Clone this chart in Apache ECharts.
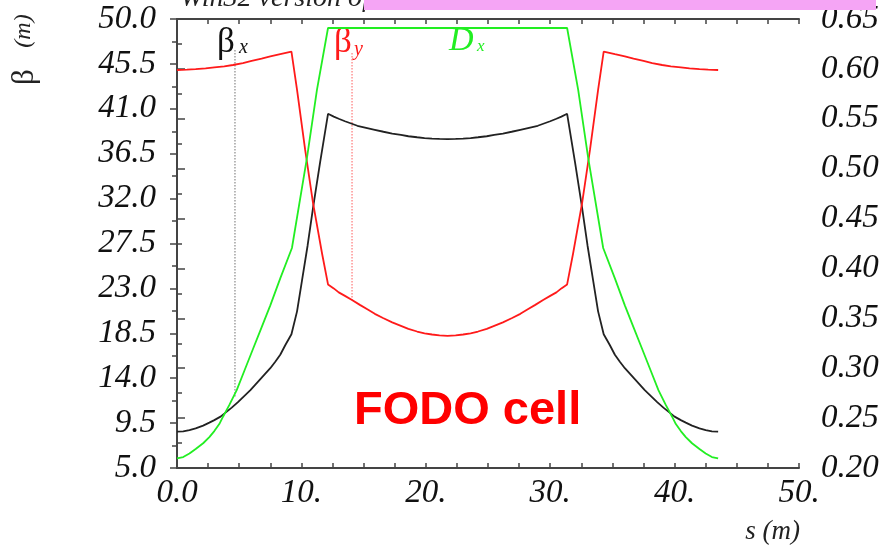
<!DOCTYPE html>
<html>
<head>
<meta charset="utf-8">
<script src="https://cdn.jsdelivr.net/npm/echarts@6/dist/echarts.min.js"></script>
<style>
html,body{margin:0;padding:0;background:#fff;}
#c{width:891px;height:547px;}
</style>
</head>
<body>
<div id="c"></div>
<script>
// ---- data ----
const sBetaX = [0, 0.5, 1.0, 1.5, 2.1, 2.6, 3.0, 3.5, 3.9, 4.4, 4.9, 5.4, 5.9, 6.3, 6.7, 7.1, 7.5, 7.9, 8.3, 8.7, 9.2, 9.65, 10.05, 10.5, 10.95, 11.5, 12.14,
  12.6, 13.0, 13.5, 14.5, 15.2, 15.9, 16.6, 17.3, 18.0, 18.6, 19.3, 19.9, 20.5, 21.1, 21.75, 22.4, 23.0, 23.6, 24.2, 24.9, 25.5, 26.2, 26.9, 27.6, 28.3, 29.0, 30.0, 30.5, 30.9, 31.36,
  32.0, 32.55, 33.0, 33.45, 33.85, 34.3, 34.8, 35.2, 35.6, 36.0, 36.4, 36.8, 37.2, 37.6, 38.1, 38.6, 39.1, 39.6, 40.0, 40.5, 40.9, 41.4, 42.0, 42.5, 43.0, 43.5];
const betaX  = [8.64, 8.68, 8.8, 8.97, 9.25, 9.55, 9.8, 10.15, 10.55, 11.05, 11.6, 12.2, 12.8, 13.35, 13.9, 14.45, 15.0, 15.65, 16.35, 17.3, 18.4, 20.7, 23.8, 27.3, 31.2, 35.6, 40.5,
  40.22, 40.0, 39.75, 39.3, 39.1, 38.9, 38.7, 38.52, 38.38, 38.25, 38.15, 38.07, 38.02, 37.98, 37.97, 37.98, 38.02, 38.07, 38.15, 38.25, 38.38, 38.52, 38.7, 38.9, 39.1, 39.3, 39.75, 40.0, 40.22, 40.5,
  35.6, 31.2, 27.3, 23.8, 20.7, 18.4, 17.3, 16.35, 15.65, 15.0, 14.45, 13.9, 13.35, 12.8, 12.2, 11.6, 11.05, 10.55, 10.15, 9.8, 9.55, 9.25, 8.97, 8.8, 8.68, 8.64];

const sBetaY = [0, 0.8, 1.5, 2.3, 3.0, 3.8, 4.5, 5.3, 6.0, 6.8, 7.5, 8.3, 9.2, 9.65, 10.3, 10.93, 11.66, 12.14,
  12.6, 13.0, 13.5, 14.07, 14.7, 15.3, 15.9, 16.56, 17.3, 18.0, 18.6, 19.3, 19.9, 20.5, 21.1, 21.75, 22.4, 23.0, 23.6, 24.2, 24.9, 25.5, 26.2, 26.94, 27.6, 28.2, 28.8, 29.43, 30.0, 30.5, 30.9, 31.36,
  31.84, 32.57, 33.2, 33.85, 34.3, 35.2, 36.0, 36.7, 37.5, 38.2, 39.0, 39.7, 40.5, 41.2, 42.0, 42.7, 43.5];
const betaY  = [44.89, 44.92, 44.98, 45.05, 45.15, 45.26, 45.39, 45.58, 45.8, 46.02, 46.25, 46.47, 46.72, 42.9, 36.9, 31.6, 26.5, 23.4,
  23.0, 22.6, 22.25, 21.84, 21.35, 20.9, 20.45, 20.03, 19.6, 19.25, 18.95, 18.68, 18.5, 18.38, 18.29, 18.25, 18.29, 18.38, 18.5, 18.68, 18.95, 19.25, 19.6, 20.03, 20.45, 20.9, 21.35, 21.84, 22.25, 22.6, 23.0, 23.4,
  26.5, 31.6, 36.9, 42.9, 46.72, 46.47, 46.25, 46.02, 45.8, 45.58, 45.39, 45.26, 45.15, 45.05, 44.98, 44.92, 44.89];

const sDx = [0, 0.5, 1.0, 1.5, 2.1, 2.6, 3.0, 3.4, 3.7, 4.2, 4.8, 5.4, 6.1, 6.8, 7.5, 8.3, 9.24, 10.45, 11.25, 12.14,
  31.36, 32.25, 33.05, 34.26, 35.2, 36.0, 36.7, 37.4, 38.1, 38.7, 39.3, 39.8, 40.1, 40.5, 40.9, 41.4, 42.0, 42.5, 43.0, 43.5];
const dX  = [0.2097, 0.211, 0.2145, 0.219, 0.2248, 0.231, 0.237, 0.244, 0.2514, 0.263, 0.278, 0.297, 0.319, 0.341, 0.363, 0.39, 0.4205, 0.511, 0.579, 0.641,
  0.641, 0.579, 0.511, 0.4205, 0.39, 0.363, 0.341, 0.319, 0.297, 0.278, 0.263, 0.2514, 0.244, 0.237, 0.231, 0.2248, 0.219, 0.2145, 0.211, 0.2097];

// dotted marker lines (s position, top and bottom beta values)
const markerGrayS = [4.66, 4.66];
const markerGrayY = [46.9, 12.1];
const markerRedS  = [14.07, 14.07];
const markerRedY  = [46.6, 21.8];

// tick labels
const xTickValues = [0, 10, 20, 30, 40, 50];
const xTickLabels = ['0.0', '10.', '20.', '30.', '40.', '50.'];

function pairs(xs, ys){ return xs.map((x,i)=>[x, ys[i]]); }

const serif = "'Liberation Serif','DejaVu Serif',serif";
const axisCol = '#444';
const labelStyle = {fontFamily: serif, fontStyle: 'italic', fontSize: 33, color: '#111'};

const chart = echarts.init(document.getElementById('c'), null, {renderer: 'canvas'});
chart.setOption({
  animation: false,
  backgroundColor: '#fff',
  grid: {left: 177, right: 92, top: 19, bottom: 79, containLabel: false},
  xAxis: [{
    type: 'value', min: 0, max: 50, interval: 10, position: 'bottom',
    axisLine: {show: true, lineStyle: {color: axisCol, width: 2}},
    axisTick: {show: true, inside: true, length: 5, lineStyle: {color: axisCol, width: 1.5}},
    minorTick: {show: true, splitNumber: 4, length: 5, lineStyle: {color: axisCol, width: 1.5}},
    splitLine: {show: false},
    axisLabel: Object.assign({margin: 9, formatter: v => { const i = xTickValues.indexOf(v); return i >= 0 ? xTickLabels[i] : ''; }}, labelStyle)
  }, {
    type: 'value', min: 0, max: 50, interval: 10, position: 'top',
    axisLine: {show: true, lineStyle: {color: axisCol, width: 2}},
    axisTick: {show: true, inside: true, length: 5, lineStyle: {color: axisCol, width: 1.5}},
    minorTick: {show: true, splitNumber: 4, length: 5, lineStyle: {color: axisCol, width: 1.5}},
    splitLine: {show: false},
    axisLabel: {show: false}
  }],
  yAxis: [{
    type: 'value', min: 5, max: 50, interval: 4.5, position: 'left',
    axisLine: {show: true, lineStyle: {color: axisCol, width: 2}},
    axisTick: {show: true, inside: false, length: 7, lineStyle: {color: axisCol, width: 1.5}},
    minorTick: {show: true, splitNumber: 2, length: 5, lineStyle: {color: axisCol, width: 1.5}},
    splitLine: {show: false},
    axisLabel: Object.assign({margin: 21, formatter: v => v.toFixed(1)}, labelStyle)
  }, {
    type: 'value', min: 0.2, max: 0.65, interval: 0.05, position: 'right',
    axisLine: {show: true, lineStyle: {color: axisCol, width: 2}},
    axisTick: {show: true, inside: false, length: 8, lineStyle: {color: axisCol, width: 1.5}},
    minorTick: {show: true, splitNumber: 2, length: 5, lineStyle: {color: axisCol, width: 1.5}},
    splitLine: {show: false},
    axisLabel: Object.assign({margin: 22, formatter: v => v.toFixed(2)}, labelStyle)
  }],
  series: [
    {name: 'βx', type: 'line', xAxisIndex: 0, yAxisIndex: 0, data: pairs(sBetaX, betaX), showSymbol: false, lineStyle: {color: '#222', width: 1.8}, z: 3},
    {name: 'βy', type: 'line', xAxisIndex: 0, yAxisIndex: 0, data: pairs(sBetaY, betaY), showSymbol: false, lineStyle: {color: '#ff1a1a', width: 1.8}, z: 3},
    {name: 'Dx', type: 'line', xAxisIndex: 0, yAxisIndex: 1, data: pairs(sDx, dX), showSymbol: false, lineStyle: {color: '#22ee22', width: 1.8}, z: 3},
    {name: 'markGray', type: 'line', xAxisIndex: 0, yAxisIndex: 0, data: pairs(markerGrayS, markerGrayY), showSymbol: false, lineStyle: {color: '#888', width: 1.2, type: [1.5, 1.5]}, z: 2},
    {name: 'markRed', type: 'line', xAxisIndex: 0, yAxisIndex: 0, data: pairs(markerRedS, markerRedY), showSymbol: false, lineStyle: {color: '#ff7777', width: 1.2, type: [1.5, 1.5]}, z: 2}
  ],
  graphic: [
    {type: 'text', x: 180, y: 13, z: 1, style: {text: 'Win32 version of', font: "italic 28px " + serif, fill: '#222', verticalAlign: 'bottom', textAlign: 'left'}},
    {type: 'rect', shape: {x: 364, y: 0, width: 512, height: 10}, z: 5, style: {fill: '#f5a5f5'}},
    {type: 'text', x: 25, y: 77, rotation: Math.PI / 2, style: {text: 'β', font: "31px " + serif, fill: '#222', textAlign: 'center', verticalAlign: 'middle'}},
    {type: 'text', x: 24, y: 31, rotation: Math.PI / 2, style: {text: '(m)', font: "italic 24px " + serif, fill: '#222', textAlign: 'center', verticalAlign: 'middle'}},
    {type: 'text', x: 800, y: 532, style: {text: 's (m)', font: "italic 27px " + serif, fill: '#222', textAlign: 'right', verticalAlign: 'middle'}},
    {type: 'text', x: 217, y: 43, style: {text: 'β', font: "35px " + serif, fill: '#111', textAlign: 'left', verticalAlign: 'middle'}},
    {type: 'text', x: 239, y: 48, style: {text: 'x', font: "italic 20px " + serif, fill: '#111', textAlign: 'left', verticalAlign: 'middle'}},
    {type: 'text', x: 334, y: 43, style: {text: 'β', font: "35px " + serif, fill: '#ff1a1a', textAlign: 'left', verticalAlign: 'middle'}},
    {type: 'text', x: 354, y: 50, style: {text: 'y', font: "italic 20px " + serif, fill: '#ff1a1a', textAlign: 'left', verticalAlign: 'middle'}},
    {type: 'text', x: 449, y: 41, style: {text: 'D', font: "italic 34px " + serif, fill: '#22ee22', textAlign: 'left', verticalAlign: 'middle'}},
    {type: 'text', x: 477, y: 47, style: {text: 'x', font: "italic 17px " + serif, fill: '#22ee22', textAlign: 'left', verticalAlign: 'middle'}},
    {type: 'text', x: 354, y: 411, style: {text: 'FODO cell', font: "bold 47px 'Liberation Sans', Arial, sans-serif", fill: '#ff0000', textAlign: 'left', verticalAlign: 'middle'}}
  ]
});
</script>
</body>
</html>
